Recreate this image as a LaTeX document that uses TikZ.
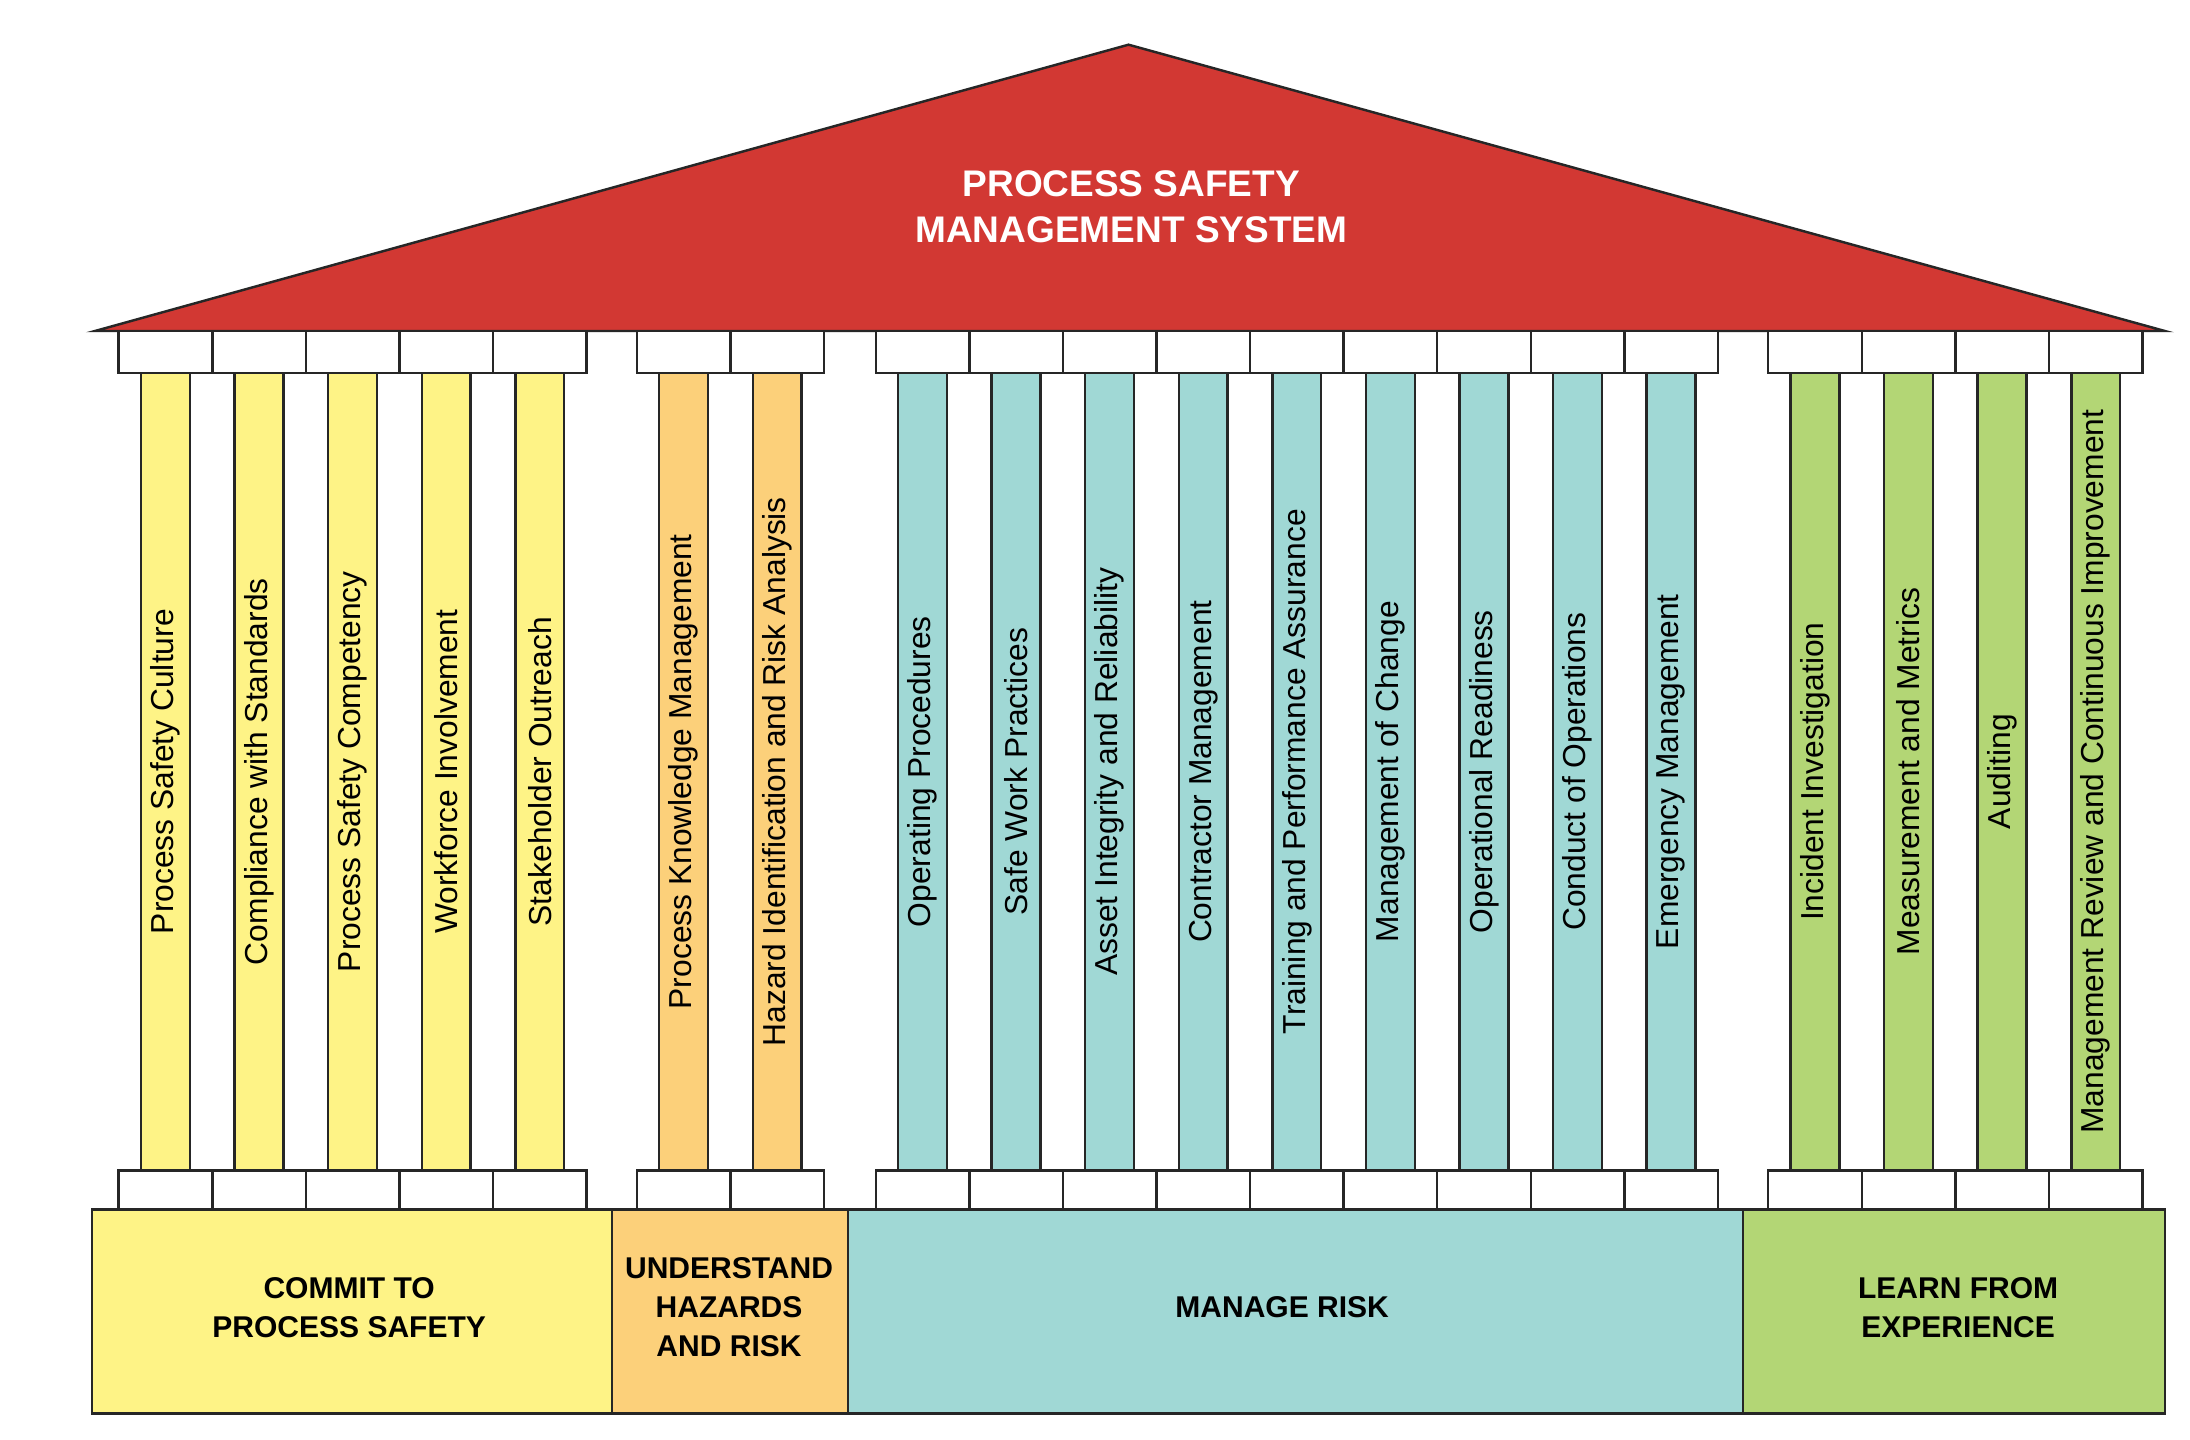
\documentclass[tikz,border=0pt]{standalone}
\usepackage{fontspec}
\setmainfont{Liberation Sans}
\definecolor{roofred}{HTML}{D23833}
\definecolor{commitc}{HTML}{FEF386}
\definecolor{hazardc}{HTML}{FCD07A}
\definecolor{riskc}{HTML}{A0D8D5}
\definecolor{learnc}{HTML}{B3D675}

\tikzset{
  outline/.style={draw=black!85,line width=0.7pt},
  capital/.style={outline,fill=white},
  shaft/.style={outline,rotate=90,inner sep=0pt,minimum width=228.4pt,minimum height=14pt,
    font=\fontsize{9.1}{11}\selectfont},
  plinthtext/.style={align=center,font=\fontsize{8.6}{11.2}\selectfont\bfseries},
}

\newcommand\pillar[3]{%
  \draw[capital] (#1,237) rectangle ++(67,30);
  \node[shaft,fill=#2] (col-#1) at (#1+33.5,552.5) {#3};
  \draw[capital] (#1,838) rectangle ++(67,28);
}

\begin{document}
\begin{tikzpicture}[x=0.4pt,y=-0.4pt]
  \useasboundingbox (0,0) rectangle (1568,1031);

  % roof
  \draw[outline,fill=roofred] (68,237) -- (808,32) -- (1550,237) -- cycle;
  \node[white,align=center,font=\fontsize{10.6}{13.2}\selectfont\bfseries] (psms) at (810,148)
    {PROCESS SAFETY\\MANAGEMENT SYSTEM};

  % pillars
  \foreach \x/\t in {85/Process Safety Culture,152/Compliance with Standards,
      219/Process Safety Competency,286/Workforce Involvement,353/Stakeholder Outreach}
    {\pillar{\x}{commitc}{\t}}
  \foreach \x/\t in {456/Process Knowledge Management,523/Hazard Identification and Risk Analysis}
    {\pillar{\x}{hazardc}{\t}}
  \foreach \x/\t in {627/Operating Procedures,694/Safe Work Practices,761/Asset Integrity and Reliability,
      828/Contractor Management,895/Training and Performance Assurance,962/Management of Change,
      1029/Operational Readiness,1096/Conduct of Operations,1163/Emergency Management}
    {\pillar{\x}{riskc}{\t}}
  \foreach \x/\t in {1266/Incident Investigation,1333/Measurement and Metrics,1400/Auditing,
      1467/Management Review and Continuous Improvement}
    {\pillar{\x}{learnc}{\t}}

  % foundation
  \draw[outline,fill=commitc] (66,866) rectangle (438,1012);
  \draw[outline,fill=hazardc] (438,866) rectangle (607,1012);
  \draw[outline,fill=riskc] (607,866) rectangle (1248,1012);
  \draw[outline,fill=learnc] (1248,866) rectangle (1550,1012);
  \node[plinthtext] (commit) at (250,936) {COMMIT TO\\PROCESS SAFETY};
  \node[plinthtext] (understand) at (522,936) {UNDERSTAND\\HAZARDS\\AND RISK};
  \node[plinthtext] (manage) at (918,936) {MANAGE RISK};
  \node[plinthtext] (learn) at (1402,936) {LEARN FROM\\EXPERIENCE};
\end{tikzpicture}
\end{document}
